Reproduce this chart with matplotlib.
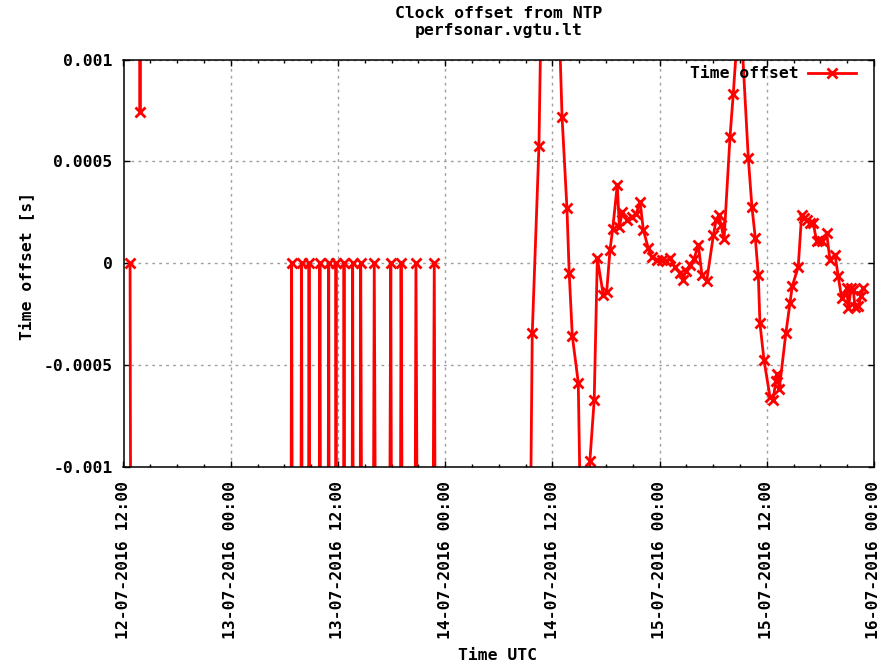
import numpy as np
import pandas as pd
import matplotlib
matplotlib.use("Agg")
import matplotlib.pyplot as plt
import matplotlib.dates as mdates

# measured offsets (s); points beyond +-0.001 are off the plot
times = [
    "2016-07-12 12:44", "2016-07-12 13:15", "2016-07-12 13:45", "2016-07-12 13:51", "2016-07-12 14:00",
    "2016-07-12 18:00", "2016-07-13 00:00", "2016-07-13 06:20",
    "2016-07-13 06:49", "2016-07-13 07:20", "2016-07-13 07:56", "2016-07-13 08:20", "2016-07-13 08:46",
    "2016-07-13 09:20", "2016-07-13 09:59", "2016-07-13 10:30", "2016-07-13 10:58", "2016-07-13 11:20",
    "2016-07-13 11:47", "2016-07-13 12:15", "2016-07-13 12:41", "2016-07-13 13:10", "2016-07-13 13:39",
    "2016-07-13 14:05", "2016-07-13 14:33", "2016-07-13 15:20", "2016-07-13 16:04", "2016-07-13 17:00",
    "2016-07-13 17:55", "2016-07-13 18:30", "2016-07-13 19:04", "2016-07-13 20:00", "2016-07-13 20:44",
    "2016-07-13 21:45", "2016-07-13 22:47", "2016-07-13 23:30",
    "2016-07-14 04:00", "2016-07-14 09:30", "2016-07-14 09:45", "2016-07-14 10:30", "2016-07-14 10:50",
    "2016-07-14 12:45", "2016-07-14 13:05", "2016-07-14 13:38", "2016-07-14 13:53", "2016-07-14 14:14",
    "2016-07-14 14:54", "2016-07-14 15:10", "2016-07-14 16:00", "2016-07-14 16:12", "2016-07-14 16:41",
    "2016-07-14 17:02", "2016-07-14 17:42", "2016-07-14 18:05", "2016-07-14 18:27", "2016-07-14 18:45",
    "2016-07-14 19:16", "2016-07-14 19:30", "2016-07-14 19:51", "2016-07-14 20:19", "2016-07-14 20:53",
    "2016-07-14 21:22", "2016-07-14 21:49", "2016-07-14 22:11", "2016-07-14 22:44", "2016-07-14 23:09",
    "2016-07-14 23:40", "2016-07-15 00:14", "2016-07-15 00:43", "2016-07-15 01:10", "2016-07-15 01:43",
    "2016-07-15 02:17", "2016-07-15 02:35", "2016-07-15 02:57", "2016-07-15 03:24", "2016-07-15 03:51",
    "2016-07-15 04:20", "2016-07-15 04:45", "2016-07-15 05:16", "2016-07-15 06:02", "2016-07-15 06:19",
    "2016-07-15 06:39", "2016-07-15 06:52", "2016-07-15 07:13", "2016-07-15 07:53", "2016-07-15 08:15",
    "2016-07-15 08:40", "2016-07-15 09:05", "2016-07-15 09:56", "2016-07-15 10:20", "2016-07-15 10:43",
    "2016-07-15 11:03", "2016-07-15 11:14", "2016-07-15 11:41", "2016-07-15 12:21", "2016-07-15 12:43",
    "2016-07-15 13:00", "2016-07-15 13:10", "2016-07-15 13:24", "2016-07-15 14:08", "2016-07-15 14:35",
    "2016-07-15 14:51", "2016-07-15 15:31", "2016-07-15 15:54", "2016-07-15 16:10", "2016-07-15 16:28",
    "2016-07-15 16:50", "2016-07-15 17:12", "2016-07-15 17:35", "2016-07-15 17:50", "2016-07-15 18:08",
    "2016-07-15 18:42", "2016-07-15 19:04", "2016-07-15 19:38", "2016-07-15 20:00", "2016-07-15 20:23",
    "2016-07-15 20:57", "2016-07-15 21:08", "2016-07-15 21:26", "2016-07-15 21:41", "2016-07-15 21:52",
    "2016-07-15 22:14", "2016-07-15 22:33", "2016-07-15 22:48",
]
offsets = [
    0.0, -0.01, 0.01, 0.00074, 0.01,
    0.01, -0.01, -0.01,
    0.0, -0.01, 0.0, -0.01, 0.0,
    -0.01, 0.0, -0.01, 0.0, -0.01,
    0.0, -0.01, 0.0, -0.01, 0.0,
    -0.01, 0.0, -0.01, 0.0, -0.01,
    0.0, -0.01, 0.0, -0.01, 0.0,
    -0.01, 0.0, -0.01,
    -0.01, -0.0015, -0.000344, 0.000576, 0.0015,
    0.0012, 0.00072, 0.00027, -0.000046, -0.000357,
    -0.000586, -0.0013, -0.0015, -0.000969, -0.000671,
    0.000025, -0.000156, -0.000139, 0.000065, 0.000167,
    0.000384, 0.00018, 0.000253, 0.000213, 0.000229,
    0.00024, 0.000302, 0.000164, 0.000074, 0.00003,
    0.000017, 0.000017, 0.00001, 0.000025, -0.00002,
    -0.000048, -0.00008, -0.00004, -0.000007, 0.00002,
    0.00009, -0.00006, -0.000089, 0.00014, 0.00021,
    0.000235, 0.00019, 0.000118, 0.00062, 0.000832,
    0.0011, 0.0012, 0.000515, 0.000278, 0.000123,
    -0.000057, -0.000294, -0.000474, -0.000654, -0.00067,
    -0.00058, -0.000543, -0.000618, -0.000344, -0.000197,
    -0.000113, -0.000018, 0.000236, 0.00022, 0.000213,
    0.0002, 0.000196, 0.000107, 0.000115, 0.000107,
    0.000148, 0.000017, 0.000042, -0.000065, -0.000172,
    -0.000123, -0.000221, -0.00012, -0.000131, -0.000213,
    -0.000211, -0.00016, -0.000123,
]

y_ticks = [-0.001, -0.0005, 0, 0.0005, 0.001]
y_tick_labels = ["-0.001", "-0.0005", "0", "0.0005", "0.001"]

LIM = 0.001
FONT = "DejaVu Sans Mono"
FS = 11.8

# like gnuplot: no segment between two points that are both out of range
t = pd.to_datetime(times)
xs, ys = [], []
for i, v in enumerate(offsets):
    if i > 0 and abs(v) > LIM and abs(offsets[i - 1]) > LIM:
        xs.append(t[i])
        ys.append(np.nan)
    xs.append(t[i])
    ys.append(v)

plt.rcParams['font.family'] = [FONT, 'DejaVu Sans']
plt.rcParams['font.weight'] = 'bold'
plt.rcParams['font.size'] = FS

fig = plt.figure(figsize=(8.93, 6.64), dpi=100)
ax = fig.add_axes([123.5 / 893, 1 - 467 / 664, (874 - 123.5) / 893, (467 - 59.5) / 664])

ax.plot(xs, ys, color='#ff0000', lw=2.0, marker='x', ms=7.5, mew=2.0,
        label='Time offset')

ax.set_xlim(pd.Timestamp("2016-07-12 12:00"), pd.Timestamp("2016-07-16 00:00"))
ax.set_ylim(-LIM, LIM)

ax.xaxis.set_major_locator(mdates.HourLocator(byhour=[0, 12]))
ax.xaxis.set_minor_locator(mdates.HourLocator(byhour=range(0, 24, 3)))
ax.xaxis.set_major_formatter(mdates.DateFormatter('%d-%m-%Y %H:%M'))
ax.set_yticks(y_ticks)
ax.set_yticklabels(y_tick_labels)

ax.tick_params(axis='both', which='both', direction='in', top=True, right=True,
               width=1, color='black')
ax.tick_params(axis='both', which='major', length=4.5)
ax.tick_params(axis='both', which='minor', length=2.5)
ax.tick_params(axis='x', which='major', pad=10, labelsize=FS, labelrotation=90)
ax.tick_params(axis='y', which='major', pad=8, labelsize=FS)
for lab in ax.get_xticklabels():
    lab.set_ha('center')
    lab.set_va('top')

ax.grid(True, which='major', color='#a0a0a0', lw=1, linestyle=(0, (2, 3)))
for s in ax.spines.values():
    s.set_linewidth(1.1)
    s.set_color('black')

fig.text(498.7 / 893, 1 - 13 / 664, "Clock offset from NTP", ha='center', va='center')
fig.text(498.7 / 893, 1 - 31 / 664, "perfsonar.vgtu.lt", ha='center', va='center')
fig.text(497 / 893, 1 - 655 / 664, "Time UTC", ha='center', va='center')
fig.text(26 / 893, 1 - 266 / 664, "Time offset [s]", ha='center', va='center', rotation=90)

ax.legend(loc='center right', bbox_to_anchor=((856 - 123.5) / 750.5, (467 - 74) / 407.5),
          frameon=False, markerfirst=False, handlelength=2.9, handletextpad=0.6,
          borderpad=0, borderaxespad=0, numpoints=1)

fig.savefig("out.png", dpi=100)
